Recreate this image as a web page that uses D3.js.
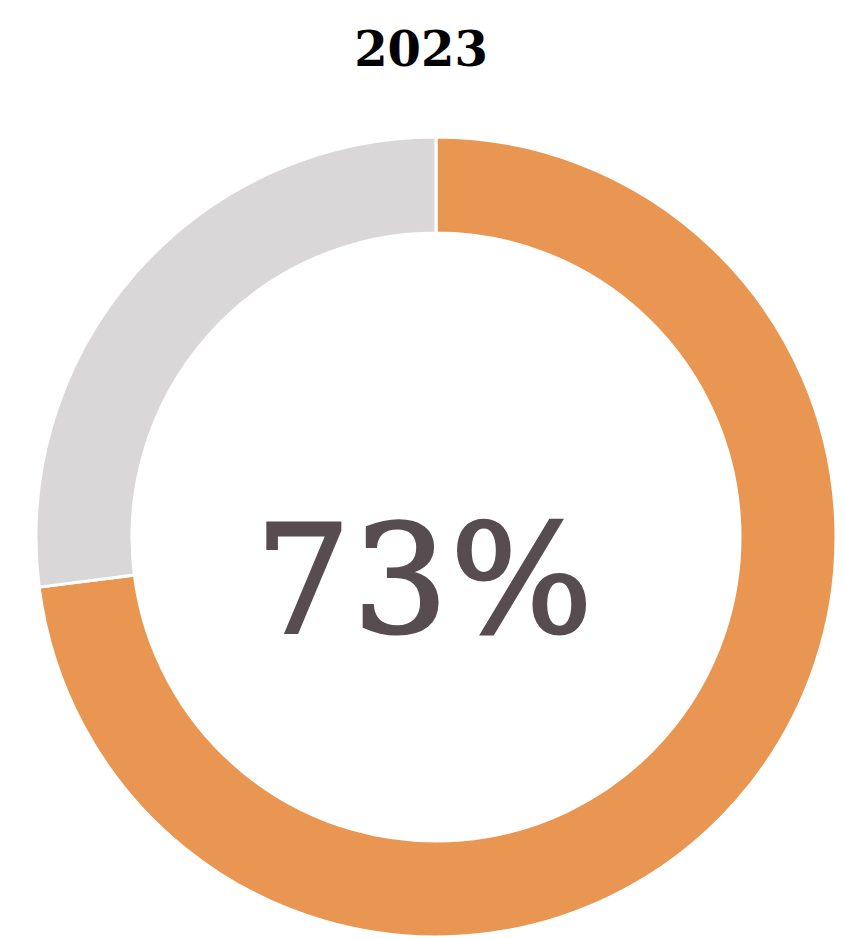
<!DOCTYPE html>
<html>
<head>
<meta charset="utf-8">
<script src="https://cdn.jsdelivr.net/npm/d3@7"></script>
<style>
  html, body { margin: 0; padding: 0; background: #fff; }
  svg { display: block; }
</style>
</head>
<body>
<svg id="chart" width="845" height="939"></svg>
<script>
const title = '2023'
const categories = ['Share', 'Rest']
const values = [73, 27]

const width = 845
const height = 939
const cx = 436
const cy = 537
const outerR = 400
const innerR = 304

const svg = d3.select('#chart')

const color = d3.scaleOrdinal()
  .domain(categories)
  .range(['#e89651', '#d9d7d8'])

const pie = d3.pie()
  .sort(null)
  .value(function (d) { return d.value })

const arc = d3.arc()
  .innerRadius(innerR)
  .outerRadius(outerR)

const data = categories.map(function (c, i) {
  return { name: c, value: values[i] }
})

const g = svg.append('g').attr('transform', 'translate(' + cx + ',' + cy + ')')

g.selectAll('path')
  .data(pie(data))
  .join('path')
  .attr('d', arc)
  .attr('fill', function (d) { return color(d.data.name) })
  .attr('stroke', '#fff')
  .attr('stroke-width', 3)

// title
svg.append('text')
  .attr('x', 421)
  .attr('y', 66)
  .attr('text-anchor', 'middle')
  .attr('font-family', 'DejaVu Serif')
  .attr('font-weight', 'bold')
  .attr('font-size', 48)
  .attr('fill', '#000')
  .text(title)

// center percentage
const total = d3.sum(values)
svg.append('text')
  .attr('x', 425)
  .attr('y', 632)
  .attr('text-anchor', 'middle')
  .attr('font-family', 'DejaVu Serif')
  .attr('font-size', 150)
  .attr('fill', '#574c50')
  .attr('stroke', '#574c50')
  .attr('stroke-width', 3)
  .attr('letter-spacing', 2)
  .text(Math.round(values[0] / total * 100) + '%')
</script>
</body>
</html>
